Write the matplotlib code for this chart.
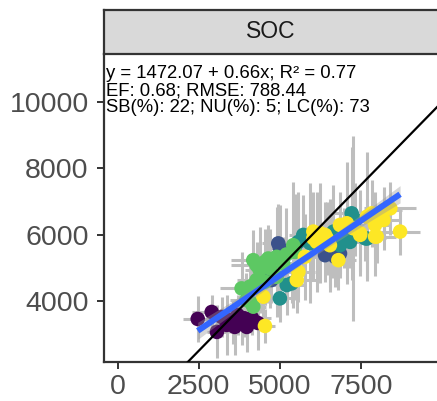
import matplotlib
matplotlib.use("Agg")
import matplotlib.pyplot as plt
import numpy as np

plt.rcParams['font.family'] = ['Liberation Sans', 'DejaVu Sans']

# ---------------- data ----------------
groups = ["g1", "g2", "g3", "g4", "g5"]
group_colors = ["#440154", "#3B528B", "#21908C", "#5DC863", "#FDE725"]

obs_g1 = [2470, 2900, 3060, 3210, 3360, 3460, 3610, 3700, 3830, 3980, 4140, 4320, 3550, 3900]
pred_g1 = [3460, 3670, 3070, 3520, 3280, 3430, 3220, 3580, 3370, 3220, 3490, 3340, 3350, 3480]
xerr_g1 = [450, 600, 300, 500, 350, 700, 400, 550, 300, 450, 600, 350, 500, 400]
yerr_g1 = [700, 500, 800, 600, 900, 400, 850, 600, 700, 750, 500, 800, 650, 550]

obs_g2 = [4950, 4590, 4740, 4540, 6540, 6850, 5000, 6390, 6700]
pred_g2 = [5735, 4830, 4630, 4680, 5430, 5430, 5590, 5380, 5330]
xerr_g2 = [500, 400, 600, 350, 700, 450, 300, 500, 400]
yerr_g2 = [1200, 900, 700, 800, 1000, 600, 1300, 800, 900]

obs_g3 = [5000, 5210, 5360, 5570, 5720, 5930, 7210, 7320, 6650, 6960, 6850, 7620, 5460, 7160, 7680]
pred_g3 = [4080, 4480, 4530, 5780, 5990, 5740, 6640, 6440, 6090, 5890, 5680, 5890, 5630, 5780, 5880]
xerr_g3 = [400, 550, 350, 600, 450, 500, 700, 400, 550, 600, 350, 650, 500, 450, 400]
yerr_g3 = [700, 900, 600, 1500, 1200, 1800, 2000, 1100, 1400, 900, 1000, 700, 1600, 800, 1200]

obs_g4 = [3820, 3970, 4180, 4180, 4380, 4640, 4900, 5100, 4900, 4280, 4540, 5410, 5460, 4280, 4540, 4070, 4130, 5200, 4700]
pred_g4 = [4380, 4030, 3830, 5230, 4930, 5280, 5330, 5130, 4730, 4630, 4580, 5680, 5480, 5080, 5180, 4430, 3930, 5400, 4980]
xerr_g4 = [650, 500, 400, 700, 450, 600, 500, 550, 400, 600, 350, 500, 450, 800, 500, 450, 300, 550, 400]
yerr_g4 = [1100, 800, 600, 900, 1300, 1000, 1500, 800, 1200, 1000, 700, 1900, 1100, 700, 1000, 900, 800, 1400, 1200]

obs_g5 = [4540, 4490, 5520, 5570, 6030, 6240, 6440, 6850, 7060, 7680, 7930, 8190, 8400, 8700,
          7930, 7470, 7260, 6800, 6540, 5770, 6130, 6030, 6390, 7470, 7980, 7830, 8200]
pred_g5 = [3250, 4130, 4630, 4880, 5890, 6040, 5890, 6290, 6340, 6540, 6290, 6440, 6790, 6090,
           5940, 5990, 6190, 5230, 5680, 5330, 5780, 6090, 5990, 6040, 5940, 6640, 6740]
xerr_g5 = [300, 400, 600, 500, 450, 550, 500, 600, 400, 700, 450, 500, 800, 600, 350, 500, 450,
           550, 400, 600, 500, 350, 450, 500, 600, 400, 550]
yerr_g5 = [500, 700, 1000, 900, 1300, 1500, 1100, 1000, 1840, 1940, 1000, 900, 800, 700, 1200,
           1100, 2780, 900, 1400, 1300, 1500, 1200, 1000, 1300, 800, 1000, 700]

obs_all = [obs_g1, obs_g2, obs_g3, obs_g4, obs_g5]
pred_all = [pred_g1, pred_g2, pred_g3, pred_g4, pred_g5]
xerr_all = [xerr_g1, xerr_g2, xerr_g3, xerr_g4, xerr_g5]
yerr_all = [yerr_g1, yerr_g2, yerr_g3, yerr_g4, yerr_g5]

intercept = 1472.07
slope = 0.66
stats_lines = ["y = 1472.07 + 0.66x; R\u00b2 = 0.77",
               "EF: 0.68; RMSE: 788.44",
               "SB(%): 22; NU(%): 5; LC(%): 73"]
strip_label = "SOC"
xticks = [0, 2500, 5000, 7500]
yticks = [4000, 6000, 8000, 10000]

# ---------------- figure ----------------
W, H = 437, 401
fig = plt.figure(figsize=(W / 100, H / 100), dpi=100)
L, R, T, B = 104, 437, 54, 362
ax = fig.add_axes([L / W, 1 - B / H, (R - L) / W, (B - T) / H])
ax.set_xlim(-416, 9837)
ax.set_ylim(2164, 11436)

# error bars
for o, p, xe, ye in zip(obs_all, pred_all, xerr_all, yerr_all):
    ax.errorbar(o, p, xerr=xe, yerr=ye, fmt='none', ecolor='#BEBEBE',
                elinewidth=2.2, capsize=0, zorder=1)
# points
for o, p, c in zip(obs_all, pred_all, group_colors):
    ax.scatter(o, p, s=110, color=c, edgecolors='none', zorder=2)

# regression line with confidence band
xa = np.concatenate([np.asarray(v, float) for v in obs_all])
ya = np.concatenate([np.asarray(v, float) for v in pred_all])
n = len(xa)
resid = ya - (intercept + slope * xa)
s = np.sqrt(np.sum(resid ** 2) / (n - 2))
xbar = xa.mean()
sxx = np.sum((xa - xbar) ** 2)
xs = np.linspace(xa.min(), xa.max(), 100)
fit = intercept + slope * xs
se = s * np.sqrt(1 / n + (xs - xbar) ** 2 / sxx)
ax.fill_between(xs, fit - 1.99 * se, fit + 1.99 * se, color='#999999', alpha=0.4,
                linewidth=0, zorder=3)
ax.plot(xs, fit, color='#3366FF', linewidth=4.3, zorder=4, solid_capstyle='butt')

# 1:1 line
ax.axline((0, 0), slope=1, color='black', linewidth=1.6, zorder=5)

# axes styling
for sp in ['top', 'right']:
    ax.spines[sp].set_visible(False)
for sp in ['left', 'bottom']:
    ax.spines[sp].set_color('#333333')
    ax.spines[sp].set_linewidth(1.6)
ax.set_xticks(xticks)
ax.set_yticks(yticks)
ax.set_xticklabels([str(v) for v in xticks])
ax.set_yticklabels([str(v) for v in yticks])
ax.tick_params(axis='both', length=5, width=1.4, color='#333333',
               labelsize=20.5, labelcolor='#4D4D4D')
ax.tick_params(axis='y', pad=6)
ax.tick_params(axis='x', pad=4)

# strip
sT, sB = 10, 54
strip_ax = fig.add_axes([L / W, 1 - sB / H, (R + 5 - L) / W, (sB - sT) / H])
strip_ax.set_xlim(0, 1)
strip_ax.set_ylim(0, 1)
strip_ax.set_xticks([])
strip_ax.set_yticks([])
strip_ax.set_facecolor('#D9D9D9')
for sp in strip_ax.spines.values():
    sp.set_color('#333333')
    sp.set_linewidth(1.6)
fig.text(((L + R) / 2) / W, 1 - 31 / H, strip_label, ha='center', va='center',
         fontsize=16.5, color='#1A1A1A')

# stats text
for i, line in enumerate(stats_lines):
    fig.text(106 / W, 1 - (78 + 17 * i) / H, line, ha='left', va='baseline',
             fontsize=13.3, color='black', zorder=10)

fig.savefig("out.png", dpi=100)
